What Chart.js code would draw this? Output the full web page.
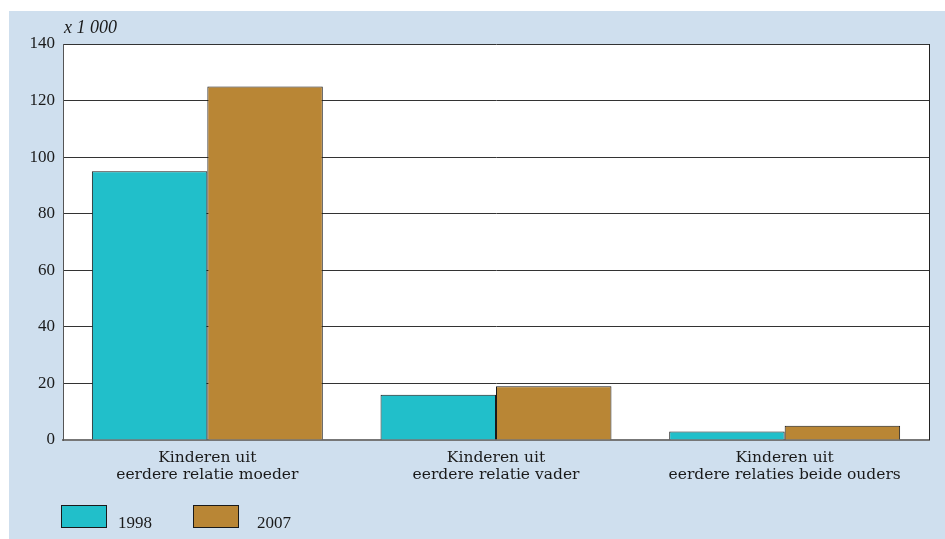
<!DOCTYPE html>
<html>
<head>
<meta charset="utf-8">
<script src="https://cdn.jsdelivr.net/npm/chart.js@4"></script>
<style>
  html, body { margin: 0; padding: 0; background: #ffffff; }
  #panel { position: absolute; left: 9px; top: 11px; width: 936px; height: 528px; background: #cfdfee; }
  canvas { display: block; }
</style>
</head>
<body>
<div id="panel"><canvas id="chart" width="936" height="528"></canvas></div>
<script>
// data
var categories = [
  ["Kinderen uit", "eerdere relatie moeder"],
  ["Kinderen uit", "eerdere relatie vader"],
  ["Kinderen uit", "eerdere relaties beide ouders"]
];
var years = ["1998", "2007"];
var values1998 = [95, 16, 3];
var values2007 = [125, 19, 5];
var yTicks = [0, 20, 40, 60, 80, 100, 120, 140];

var numFont = "'Liberation Serif', serif";
var textFont = "'DejaVu Serif', serif";

// white plot background, right border, unit label and legend
var decor = {
  id: 'decor',
  beforeDraw: function (chart) {
    var a = chart.chartArea, ctx = chart.ctx;
    ctx.save();
    ctx.fillStyle = '#ffffff';
    ctx.fillRect(a.left, a.top, a.right - a.left, a.bottom - a.top);
    ctx.restore();
  },
  afterDraw: function (chart) {
    var a = chart.chartArea, ctx = chart.ctx;
    ctx.save();
    ctx.strokeStyle = '#222';
    ctx.lineWidth = 1;
    ctx.beginPath();
    ctx.moveTo(a.right + 0.5, a.top);
    ctx.lineTo(a.right + 0.5, a.bottom);
    ctx.stroke();

    ctx.fillStyle = '#1a1a1a';
    ctx.font = "italic 18px " + numFont;
    ctx.textBaseline = 'alphabetic';
    ctx.fillText('x 1 000', a.left + 1, 22);

    // legend
    var x = 52, y = 494;
    var textOffsets = [57, 64];
    ctx.font = "17px " + numFont;
    ctx.textBaseline = 'alphabetic';
    chart.data.datasets.forEach(function (ds, i) {
      ctx.fillStyle = ds.backgroundColor;
      ctx.fillRect(x, y, 46, 23);
      ctx.strokeStyle = '#1a1a1a';
      ctx.strokeRect(x + 0.5, y + 0.5, 45, 22);
      ctx.fillStyle = '#1a1a1a';
      ctx.fillText(ds.label, x + textOffsets[i], y + 23);
      x += 132;
    });
    ctx.restore();
  }
};

var chart = new Chart(document.getElementById('chart'), {
  type: 'bar',
  data: {
    labels: categories,
    datasets: [{
      label: years[0],
      data: values1998,
      backgroundColor: '#21bfca',
      borderColor: '#1a1a1a',
      borderWidth: 1
    }, {
      label: years[1],
      data: values2007,
      backgroundColor: '#b98635',
      borderColor: '#1a1a1a',
      borderWidth: 1
    }]
  },
  options: {
    responsive: false,
    devicePixelRatio: 1,
    animation: false,
    categoryPercentage: 0.8,
    barPercentage: 1.0,
    layout: { padding: { left: 8, right: 16, top: 33, bottom: 0 } },
    plugins: {
      legend: { display: false },
      tooltip: { enabled: false }
    },
    scales: {
      x: {
        grid: { display: false },
        border: { color: '#777', width: 2 },
        ticks: {
          color: '#1a1a1a',
          padding: 1,
          maxRotation: 0,
          font: { family: textFont, size: 15.5, lineHeight: 1.1 }
        },
        afterFit: function (scale) { scale.height = 99; }
      },
      y: {
        min: 0,
        max: 140,
        afterBuildTicks: function (scale) {
          scale.ticks = yTicks.map(function (v) { return { value: v }; });
        },
        grid: { color: '#333', lineWidth: 1, drawTicks: false },
        border: { color: '#555', width: 1 },
        ticks: {
          color: '#1a1a1a',
          padding: 8,
          font: { family: numFont, size: 17 }
        },
        afterFit: function (scale) { scale.width = 46; }
      }
    }
  },
  plugins: [decor]
});
</script>
</body>
</html>
